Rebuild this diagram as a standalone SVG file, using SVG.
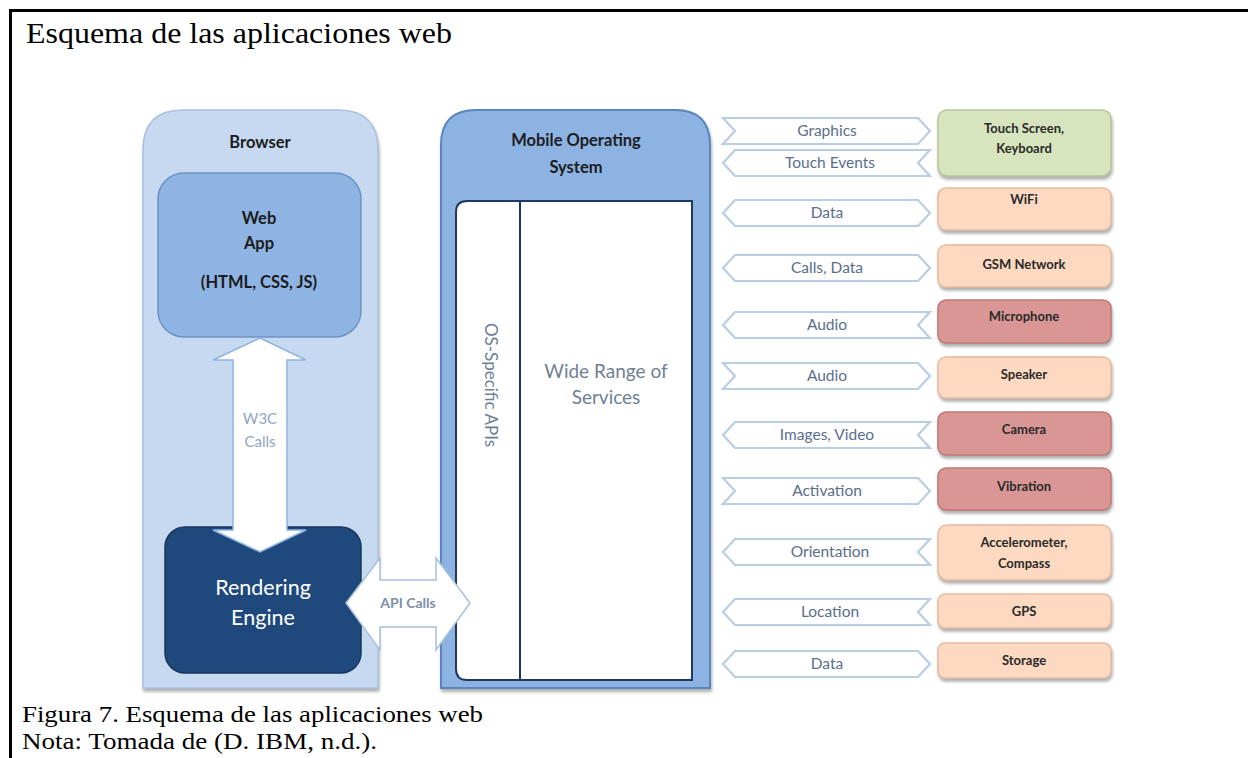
<svg xmlns="http://www.w3.org/2000/svg" width="1248" height="758" viewBox="0 0 1248 758">
<defs>
<filter id="sh" x="-10%" y="-10%" width="125%" height="125%"><feDropShadow dx="1" dy="3" stdDeviation="1.5" flood-color="#7a7a7a" flood-opacity="0.6"/></filter>
</defs>
<style>
.cap{font-family:"Liberation Serif","Times New Roman",serif;fill:#000}
.lbl{font-family:Lato,"Liberation Sans",sans-serif;text-anchor:middle}
.hd{font-weight:bold;font-size:16.5px;fill:#1c1c1c}
.arr{fill:#fff;stroke:#b9cde5;stroke-width:2.2}
.at{font-size:15.5px;fill:#5a6e8c}
.dev{stroke-width:1.5;filter:url(#sh)}
.dt{font-weight:bold;font-size:13px;fill:#2a2a2a}
.green{fill:#d7e4bd;stroke:#b5c69a}
.peach{fill:#fcd9c0;stroke:#e3bba0}
.rose{fill:#d99694;stroke:#bd7876}
</style>
<rect x="0" y="0" width="1248" height="758" fill="#fff"/>
<path d="M10.5 780 V10.5 H1260" fill="none" stroke="#000" stroke-width="3"/>
<text class="cap" x="26" y="43" font-size="29" textLength="426" lengthAdjust="spacingAndGlyphs">Esquema de las aplicaciones web</text>
<text class="cap" x="22" y="722" font-size="24" textLength="461" lengthAdjust="spacingAndGlyphs">Figura 7. Esquema de las aplicaciones web</text>
<text class="cap" x="22" y="749" font-size="24" textLength="355" lengthAdjust="spacingAndGlyphs">Nota: Tomada de (D. IBM, n.d.).</text>

<g id="browser">
<path d="M143 688 V150 Q143 110 183 110 H338 Q378 110 378 150 V688 Z" fill="#c6d9f1" stroke="#a9c0dc" stroke-width="1.5" filter="url(#sh)"/>
<text class="lbl hd" x="260" y="148">Browser</text>
</g>
<g id="webapp">
<rect x="158" y="173" width="203" height="164" rx="26" fill="#8eb4e3" stroke="#6d93c3" stroke-width="1.5"/>
<text class="lbl hd" x="259" y="224" font-size="17.5">Web</text>
<text class="lbl hd" x="259" y="249" font-size="17.5">App</text>
<text class="lbl hd" x="259" y="288" font-size="17">(HTML, CSS, JS)</text>
</g>
<g id="rendering">
<rect x="165" y="527" width="196" height="146" rx="20" fill="#1f497d" stroke="#17375e" stroke-width="1.5"/>
<text class="lbl" x="263" y="595" font-size="21.5" fill="#fff">Rendering</text>
<text class="lbl" x="263" y="625" font-size="21.5" fill="#fff">Engine</text>
</g>

<g id="mobileos">
<path d="M441 688 V145 Q441 110 476 110 H675 Q710 110 710 145 V688 Z" fill="#8db3e2" stroke="#5a86bf" stroke-width="2" filter="url(#sh)"/>
<text class="lbl hd" x="576" y="146" font-size="17.5">Mobile  Operating</text>
<text class="lbl hd" x="576" y="173" font-size="17.5">System</text>
</g>
<g id="osapis">
<path d="M520 201 V680 H467 Q456 680 456 669 V212 Q456 201 467 201 Z" fill="#fff" stroke="#1f3864" stroke-width="2"/>
<text class="lbl" transform="translate(485 385) rotate(90)" font-size="17" fill="#6f7f95">OS-Specific APIs</text>
</g>
<g id="services">
<rect x="520" y="201" width="172" height="479" fill="#fff" stroke="#1f3864" stroke-width="2"/>
<text class="lbl" x="606" y="378" font-size="19" fill="#6f7f95">Wide Range of</text>
<text class="lbl" x="606" y="404" font-size="19" fill="#6f7f95">Services</text>
</g>

<g id="connectors">
<polygon points="260,338 306,360 287,360 287,530 306,530 260,552 213,530 233,530 233,360 213,360" fill="#fff" stroke="#8eb4e3" stroke-width="1.5"/>
<text class="lbl" x="260" y="424" font-size="15" fill="#8fa6c4">W3C</text>
<text class="lbl" x="260" y="447" font-size="15" fill="#8fa6c4">Calls</text>
<polygon points="346,603 380,558 380,580 436,580 436,558 470,603 436,650 436,627 380,627 380,650" fill="#fff" stroke="#a9c0dc" stroke-width="1.5"/>
<text class="lbl" x="408" y="608" font-size="14" font-weight="bold" fill="#7d8fa9">API Calls</text>

<polygon class="arr" points="723,118 918,118 930,131 918,144 723,144 735,131"/>
<text class="lbl at" x="827" y="136">Graphics</text>
<polygon class="arr" points="723,163 735,150 930,150 918,163 930,176 735,176"/>
<text class="lbl at" x="830" y="168">Touch Events</text>
<polygon class="arr" points="723,213 735,200 918,200 930,213 918,226 735,226"/>
<text class="lbl at" x="827" y="218">Data</text>
<polygon class="arr" points="723,268 735,255 918,255 930,268 918,281 735,281"/>
<text class="lbl at" x="827" y="273">Calls, Data</text>
<polygon class="arr" points="723,325 735,312 930,312 918,325 930,338 735,338"/>
<text class="lbl at" x="827" y="330">Audio</text>
<polygon class="arr" points="723,363 918,363 930,376 918,389 723,389 735,376"/>
<text class="lbl at" x="827" y="381">Audio</text>
<polygon class="arr" points="723,435 735,422 930,422 918,435 930,448 735,448"/>
<text class="lbl at" x="827" y="440">Images, Video</text>
<polygon class="arr" points="723,478 918,478 930,491 918,504 723,504 735,491"/>
<text class="lbl at" x="827" y="496">Activation</text>
<polygon class="arr" points="723,552 735,539 930,539 918,552 930,565 735,565"/>
<text class="lbl at" x="830" y="557">Orientation</text>
<polygon class="arr" points="723,612 735,599 930,599 918,612 930,625 735,625"/>
<text class="lbl at" x="830" y="617">Location</text>
<polygon class="arr" points="723,664 735,651 918,651 930,664 918,677 735,677"/>
<text class="lbl at" x="827" y="669">Data</text>
</g>

<g id="touchscreen"><rect class="dev green" x="938" y="110" width="173" height="66" rx="9"/>
<text class="lbl dt" x="1024" y="133">Touch Screen,</text><text class="lbl dt" x="1024" y="153">Keyboard</text></g>
<g id="wifi"><rect class="dev peach" x="938" y="188" width="173" height="42" rx="8"/>
<text class="lbl dt" x="1024" y="204">WiFi</text></g>
<g id="gsm"><rect class="dev peach" x="938" y="245" width="173" height="42" rx="8"/>
<text class="lbl dt" x="1024" y="269">GSM Network</text></g>
<g id="microphone"><rect class="dev rose" x="938" y="300" width="173" height="43" rx="8"/>
<text class="lbl dt" x="1024" y="321">Microphone</text></g>
<g id="speaker"><rect class="dev peach" x="938" y="357" width="173" height="41" rx="8"/>
<text class="lbl dt" x="1024" y="379">Speaker</text></g>
<g id="camera"><rect class="dev rose" x="938" y="412" width="173" height="43" rx="8"/>
<text class="lbl dt" x="1024" y="434">Camera</text></g>
<g id="vibration"><rect class="dev rose" x="938" y="468" width="173" height="42" rx="8"/>
<text class="lbl dt" x="1024" y="491">Vibration</text></g>
<g id="accelerometer"><rect class="dev peach" x="938" y="525" width="173" height="55" rx="9"/>
<text class="lbl dt" x="1024" y="547">Accelerometer,</text><text class="lbl dt" x="1024" y="568">Compass</text></g>
<g id="gps"><rect class="dev peach" x="938" y="594" width="173" height="34" rx="7"/>
<text class="lbl dt" x="1024" y="616">GPS</text></g>
<g id="storage"><rect class="dev peach" x="938" y="643" width="173" height="35" rx="7"/>
<text class="lbl dt" x="1024" y="665">Storage</text></g>
</svg>
